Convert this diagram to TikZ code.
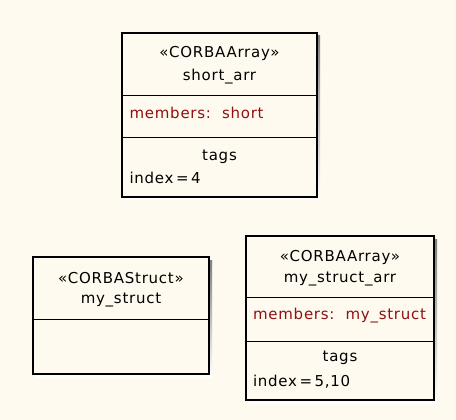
\documentclass[tikz,border=0pt]{standalone}
\usepackage{fontspec}
\setmainfont[LetterSpace=5]{DejaVu Sans}
\usepackage{xcolor}
\usepackage{tikz}
\definecolor{paper}{HTML}{FFFAEF}
\definecolor{memred}{HTML}{8E1010}
\definecolor{shade}{HTML}{A8A8A8}

\begin{document}
\begin{tikzpicture}[x=1pt,y=-1pt, font=\fontsize{15}{17}\selectfont]
 \fill[paper] (0,0) rectangle (456,420);
 % corners of the three boxes
 \coordinate (S0) at (122,33);
 \coordinate (S1) at (317,197);
 \coordinate (T0) at (33,257);
 \coordinate (T1) at (209,374);
 \coordinate (M0) at (246,236);
 \coordinate (M1) at (434,400);
 \foreach \a/\b in {S0/S1,T0/T1,M0/M1}
   \fill[shade] ([shift={(3,3)}]\a) rectangle ([shift={(3,3)}]\b);
 \foreach \a/\b in {S0/S1,T0/T1,M0/M1}
   \draw[line width=1.3pt,fill=paper] (\a) rectangle (\b);
 % compartments
 \draw[line width=1pt] (122,96)--(317,96);
 \draw[line width=1pt] (122,138)--(317,138);
 \draw[line width=1pt] (33,319)--(209,319);
 \draw[line width=1pt] (246,297)--(434,297);
 \draw[line width=1pt] (246,341)--(434,341);
 % short_arr
 \node (sStereo) at (219.5,53) {«CORBAArray»};
 \node (sName) at (219.5,77) {short\_arr};
 \node[anchor=west,text=memred] (sMembers) at (126,113) {members:\ \ short};
 \node (sTags) at (219.5,157) {tags};
 \node[anchor=west] (sIndex) at (126,178) {index\,=\,4};
 % my_struct
 \node (tStereo) at (121,278) {«CORBAStruct»};
 \node (tName) at (121,300) {my\_struct};
 % my_struct_arr
 \node (mStereo) at (340,257) {«CORBAArray»};
 \node (mName) at (340,279) {my\_struct\_arr};
 \node[anchor=west,text=memred] (mMembers) at (249.5,316) {members:\ \ my\_struct};
 \node (mTags) at (340,358) {tags};
 \node[anchor=west] (mIndex) at (249.5,382) {index\,=\,5,10};
\end{tikzpicture}
\end{document}
